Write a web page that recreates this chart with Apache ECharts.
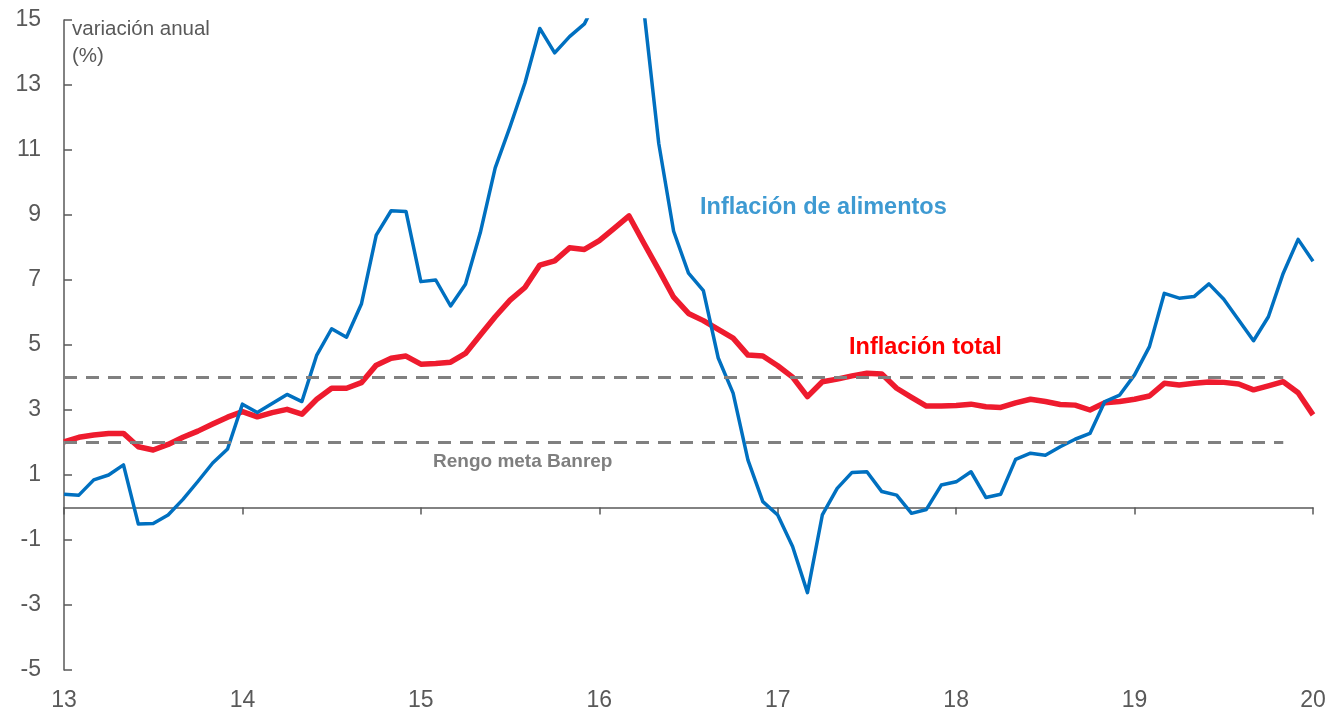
<!DOCTYPE html>
<html>
<head>
<meta charset="utf-8">
<title>Inflación Colombia</title>
<script src="https://cdn.jsdelivr.net/npm/echarts@6/dist/echarts.min.js"></script>
<style>
    html, body {margin: 0; padding: 0; background: #fff;}
    #main {width: 1330px; height: 715px;}
</style>
</head>
<body>
<div id="main"></div>
<script>
// datos mensuales, ene-2013 a ene-2020 (variación anual, %)
var anioInicio = 13;
var alimentos = [
    0.41, 0.38, 0.85, 1.00, 1.31, -0.51, -0.49, -0.23, 0.25, 0.80, 1.37, 1.80,
    3.18, 2.92, 3.20, 3.48, 3.26, 4.69, 5.50, 5.24, 6.26, 8.38, 9.13, 9.11,
    6.95, 7.00, 6.20, 6.87, 8.46, 10.45, 11.72, 13.06, 14.74, 13.99, 14.49, 14.88,
    15.80, 16.40, 16.60, 15.30, 11.20, 8.50, 7.21, 6.67, 4.60, 3.52, 1.46, 0.18,
    -0.23, -1.20, -2.62, -0.23, 0.59, 1.08, 1.10, 0.49, 0.38, -0.18, -0.06, 0.69,
    0.79, 1.10, 0.31, 0.41, 1.48, 1.67, 1.61, 1.87, 2.10, 2.28, 3.26, 3.46,
    4.08, 4.95, 6.59, 6.44, 6.49, 6.88, 6.41, 5.77, 5.13, 5.87, 7.21, 8.25,
    7.58
];
var total = [
    2.02, 2.16, 2.23, 2.28, 2.28, 1.87, 1.77, 1.94, 2.16, 2.35, 2.57, 2.78,
    2.95, 2.79, 2.92, 3.02, 2.87, 3.33, 3.67, 3.67, 3.84, 4.38, 4.59, 4.66,
    4.41, 4.43, 4.47, 4.74, 5.31, 5.87, 6.38, 6.77, 7.46, 7.59, 7.99, 7.94,
    8.21, 8.59, 8.97, 8.13, 7.31, 6.47, 5.97, 5.75, 5.48, 5.21, 4.69, 4.66,
    4.36, 4.01, 3.41, 3.87, 3.95, 4.05, 4.13, 4.11, 3.67, 3.39, 3.12, 3.12,
    3.14, 3.18, 3.10, 3.08, 3.22, 3.33, 3.26, 3.17, 3.15, 3.00, 3.22, 3.26,
    3.33, 3.43, 3.82, 3.77, 3.82, 3.86, 3.85, 3.80, 3.62, 3.74, 3.87, 3.53,
    2.85
];
// rango meta del Banrep y mes en que terminan las líneas
var rangoMeta = [2, 4];
var finMeta = 82;

var fuente = "'Liberation Sans', Arial, sans-serif";
var gris = '#595959';

function aPares(serie) {
    return serie.map(function (v, i) {
        return [anioInicio + i / 12, v];
    });
}

var myChart = echarts.init(document.getElementById('main'));
var option = {
    animation: false,
    grid: {left: 64, right: 17, top: 20, bottom: 45, outerBoundsMode: 'none'},
    xAxis: [
        {
            // eje en cero: línea y marcas
            type: 'value',
            min: 13,
            max: 20,
            interval: 1,
            position: 'bottom',
            splitLine: {show: false},
            axisLine: {onZero: true, lineStyle: {color: gris, width: 1.5}},
            axisTick: {show: true, length: 7, lineStyle: {color: gris, width: 1.5}},
            axisLabel: {show: false}
        },
        {
            // etiquetas de los años abajo
            type: 'value',
            min: 13,
            max: 20,
            interval: 1,
            position: 'bottom',
            splitLine: {show: false},
            axisLine: {show: false, onZero: false},
            axisTick: {show: false},
            axisLabel: {margin: 19, fontSize: 23, color: gris, fontFamily: fuente}
        }
    ],
    yAxis: {
        type: 'value',
        min: -5,
        max: 15,
        interval: 2,
        splitLine: {show: false},
        axisLine: {show: true, onZero: false, lineStyle: {color: gris, width: 1.5}},
        axisTick: {show: true, inside: true, length: 8, lineStyle: {color: gris, width: 1.5}},
        axisLabel: {margin: 23, fontSize: 23, color: gris, fontFamily: fuente}
    },
    graphic: [
        {type: 'text', left: 72, top: 16, style: {text: 'variación anual\n(%)', font: '20.5px ' + fuente, lineHeight: 27, fill: gris}},
        {type: 'text', left: 700, top: 196, style: {text: 'Inflación de alimentos', font: 'bold 23.5px ' + fuente, fill: '#3E9AD2'}},
        {type: 'text', left: 849, top: 336, style: {text: 'Inflación total', font: 'bold 23.5px ' + fuente, fill: '#FF0000'}},
        {type: 'text', left: 433, top: 452, style: {text: 'Rengo meta Banrep', font: 'bold 19px ' + fuente, fill: '#7F7F7F'}}
    ],
    series: [
        {
            name: 'Rango meta',
            type: 'line',
            data: [],
            markLine: {
                silent: true,
                symbol: 'none',
                label: {show: false},
                lineStyle: {color: '#808080', width: 3, type: [13, 9]},
                data: rangoMeta.map(function (v) {
                    return [{coord: [anioInicio, v]}, {coord: [anioInicio + finMeta / 12, v]}];
                })
            }
        },
        {
            name: 'Inflación total',
            type: 'line',
            data: aPares(total),
            showSymbol: false,
            lineStyle: {color: '#EE1B2E', width: 5.5, join: 'round'}
        },
        {
            name: 'Inflación de alimentos',
            type: 'line',
            data: aPares(alimentos),
            showSymbol: false,
            lineStyle: {color: '#0070C0', width: 3.5, join: 'round'}
        }
    ]
};
myChart.setOption(option);
</script>
</body>
</html>
